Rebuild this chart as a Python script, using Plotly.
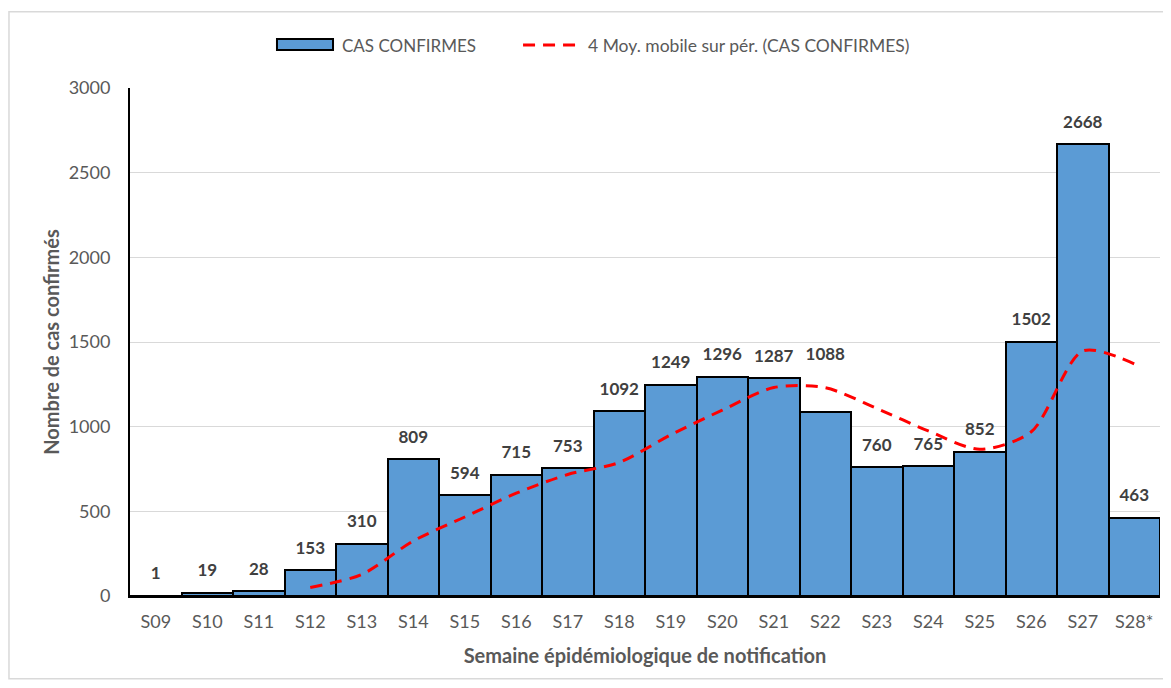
import plotly.graph_objects as go

weeks = ["S09", "S10", "S11", "S12", "S13", "S14", "S15", "S16", "S17", "S18",
         "S19", "S20", "S21", "S22", "S23", "S24", "S25", "S26", "S27", "S28*"]
cases = [1, 19, 28, 153, 310, 809, 594, 715, 753, 1092,
         1249, 1296, 1287, 1088, 760, 765, 852, 1502, 2668, 463]
ma_weeks = ["S12", "S13", "S14", "S15", "S16", "S17", "S18", "S19", "S20", "S21",
            "S22", "S23", "S24", "S25", "S26", "S27", "S28*"]
ma_values = [50.25, 127.5, 325, 466.5, 607, 717.75, 788.5, 952.25, 1097.5, 1231,
             1230, 1107.75, 975, 866.25, 969.75, 1446.75, 1371.25]

bar_name = "CAS CONFIRMES"
line_name = "4 Moy. mobile sur pér. (CAS CONFIRMES)"

FONT = "Lato, 'Open Sans', sans-serif"
GRAY = "#595959"

fig = go.Figure()
fig.add_trace(go.Bar(
    x=weeks, y=cases, name=bar_name,
    marker=dict(color="#5B9BD5", line=dict(color="black", width=2)),
    showlegend=False,
))
fig.add_trace(go.Scatter(
    x=ma_weeks, y=ma_values, mode="lines", name=line_name,
    line=dict(color="#FF0000", width=3, dash="12px,8px", shape="spline", smoothing=0.8),
    showlegend=False,
))
# value labels above the bars (label of S22 lifted above the moving-average line)
label_pad = [74 if w == "S22" else 18 for w in weeks]
fig.add_trace(go.Scatter(
    x=weeks, y=cases, mode="markers+text", name="labels",
    marker=dict(size=label_pad, opacity=0),
    text=[str(v) for v in cases], textposition="top center",
    textfont=dict(family=FONT, size=17, color="#404040", weight="bold"),
    cliponaxis=False, showlegend=False, hoverinfo="skip",
))

# custom legend (wide swatches like the original)
shapes = [
    dict(type="rect", xref="paper", yref="paper",
         x0=-0.1175, x1=1.0040, y0=-0.163, y1=1.150,
         line=dict(color="#D9D9D9", width=1.5), fillcolor="rgba(0,0,0,0)", layer="below"),
    dict(type="rect", xref="paper", yref="paper",
         x0=0.1427, x1=0.1971, y0=1.0748, y1=1.0965,
         line=dict(color="black", width=2), fillcolor="#5B9BD5"),
    dict(type="line", xref="paper", yref="paper",
         x0=0.3816, x1=0.4350, y0=1.0846, y1=1.0846,
         line=dict(color="#FF0000", width=3, dash="12px,8px")),
]
annotations = [
    dict(xref="paper", yref="paper", x=0.2039, y=1.0846, xanchor="left", yanchor="middle",
         text=bar_name, showarrow=False, font=dict(family=FONT, size=17, color=GRAY)),
    dict(xref="paper", yref="paper", x=0.4427, y=1.0846, xanchor="left", yanchor="middle",
         text=line_name, showarrow=False, font=dict(family=FONT, size=17.5, color=GRAY)),
]

fig.update_layout(
    width=1155, height=672,
    margin=dict(l=122, r=3, t=80, b=84),
    plot_bgcolor="white", paper_bgcolor="white",
    bargap=0,
    font=dict(family=FONT, size=18, color=GRAY),
    showlegend=False,
    xaxis=dict(
        range=[-0.5, len(weeks) - 0.5], autorange=False,
        showline=True, linecolor="black", linewidth=2, ticks="",
        tickfont=dict(size=18, color=GRAY), ticklabelstandoff=8,
        title=dict(text="Semaine épidémiologique de notification",
                   font=dict(size=20, color=GRAY, weight="bold"), standoff=18),
        showgrid=False,
    ),
    yaxis=dict(
        range=[0, 3000], dtick=500,
        showline=True, linecolor="black", linewidth=2, ticks="",
        showgrid=True, gridcolor="#D9D9D9", gridwidth=1,
        tickfont=dict(size=18, color=GRAY), ticklabelstandoff=14,
        title=dict(text="Nombre de cas confirmés",
                   font=dict(size=20, color=GRAY, weight="bold"), standoff=4),
        zeroline=False,
    ),
    shapes=shapes,
    annotations=annotations,
)

fig.write_html("out.html")
